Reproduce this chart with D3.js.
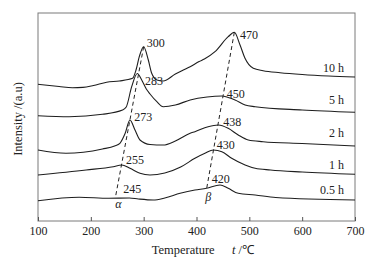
<!DOCTYPE html>
<html><head><meta charset="utf-8">
<script src="https://cdn.jsdelivr.net/npm/d3@7"></script>
<style>
html,body{margin:0;padding:0;background:#fff;}
svg{display:block;font-family:"Liberation Serif","Times New Roman",serif;}
</style></head>
<body><svg id="c" width="374" height="264"></svg>
<script>
// Temperature (°C) for each traced point, and intensity (a.u., arbitrary offset scale)
const t10 = [100,140,165,185,205,230,254,279,285.5,291.7,300,308.8,315.2,325,337,360,375,388,405,415,435,460,471.6,482.4,491.8,507.5,526,558,600,650,700];
const i10 = [136.7,134.5,133.3,133.6,135.5,138.8,140,142.7,151,164.3,174.3,161,147.7,141,140,147,151,154.3,159.5,162,169.3,184.3,188.7,176,162.7,152.7,150.3,148.3,146.5,145,144];
const t5 = [100,159,222,260,267,277.3,288,296.3,305,312,325,337,360,388,420,448,460,473,492,511,600,700];
const i5 = [105.3,104.3,106.7,111,114,134.3,147.5,141,132,127,119.3,114.3,116,121,124,125,123.5,121,116,114.3,111,108.7];
const t2 = [100,153,222,245,255,265,274,283.6,293,312,337,360,388,397,422,441,460,479,498,526,600,700];
const i2 = [71,67.7,72,75,77.7,87.7,101,91,81,76.5,76,80,87.7,89.3,94.3,96,92.7,86,81,79.3,77.5,75];
const t1 = [100,191,242.5,258.4,274,293,312,340,370,397,416,432,448,466.6,492,511,540,600,700];
const i1 = [46,51,54.3,56,52.7,47.7,46,48,54,62.7,67.7,71,69.3,62.7,56,52.7,51,49,46.7];
const t05 = [100,178,234,273,290,318,340,369,397,419,444.5,460,479,511,550,700];
const i05 = [20.3,23.7,22.7,23,22,21,23,27.7,31,32.7,36,32.7,27.7,26,23.5,21];

const seriesNames = ["10 h","5 h","2 h","1 h","0.5 h"];
const seriesT = [t10,t5,t2,t1,t05];
const seriesI = [i10,i5,i2,i1,i05];
const seriesLabelI = [153.7,121.7,88.3,56.7,31];
const seriesLabelT = 679;

// peak temperature labels and where they sit
const peakText = ["300","283","273","255","245","470","450","438","430","420"];
const peakLabelT = [305.8,302.5,282.3,266.6,261.5,482.4,457.2,450.7,438.2,428.8];
const peakLabelI = [178.3,140,104.3,61,32.7,186,127.7,99.3,76,42.7];

// dashed trend lines (alpha and beta peaks)
const trendNames = ["α","β"];
const trendT = [[300,247],[471.6,419.3]];
const trendI = [[174.3,25],[188.7,32.7]];
const trendLabelT = [252,422.4];
const trendLabelI = [17.7,24.3];

const xTicks = [100,200,300,400,500,600,700];

const svg = d3.select("#c");
const L=38,R=355,T=13,B=221;
const x = d3.scaleLinear().domain([100,700]).range([L,R]);
const y = d3.scaleLinear().domain([0,208]).range([B,T]);

// frame
svg.append("rect").attr("x",L).attr("y",T).attr("width",R-L).attr("height",B-T)
  .attr("fill","none").attr("stroke","#7a7a7a").attr("stroke-width",1);

// x axis
const ax = svg.append("g").attr("transform",`translate(0,${B})`)
  .call(d3.axisBottom(x).tickValues(xTicks).tickFormat(d3.format("d")).tickSizeInner(-4).tickSizeOuter(0).tickPadding(5.5));
ax.attr("font-family","Liberation Serif");
ax.select(".domain").remove();
ax.selectAll(".tick line").attr("stroke","#555");
ax.selectAll("text").attr("font-size","12px").attr("fill","#222");

// curves
const line = d3.line().x(d=>x(d[0])).y(d=>y(d[1])).curve(d3.curveMonotoneX);
seriesT.forEach((ts,k)=>{
  const pts = ts.map((t,j)=>[t,seriesI[k][j]]);
  svg.append("path").attr("d",line(pts)).attr("fill","none").attr("stroke","#1e1e1e").attr("stroke-width",1.1);
  svg.append("text").attr("x",x(seriesLabelT)).attr("y",y(seriesLabelI[k])).attr("dy","0.35em")
    .attr("text-anchor","end").attr("font-size","12px").attr("fill","#222").text(seriesNames[k]);
});

// dashed trend lines
trendT.forEach((tt,k)=>{
  svg.append("line").attr("x1",x(tt[0])).attr("y1",y(trendI[k][0])).attr("x2",x(tt[1])).attr("y2",y(trendI[k][1]))
    .attr("stroke","#222").attr("stroke-width",1).attr("stroke-dasharray","4,3");
  svg.append("text").attr("x",x(trendLabelT[k])).attr("y",y(trendLabelI[k])).attr("dy","0.35em")
    .attr("text-anchor","middle").attr("font-size","12px").attr("font-style","italic").attr("fill","#222").text(trendNames[k]);
});

// peak labels
peakText.forEach((s,k)=>{
  svg.append("text").attr("x",x(peakLabelT[k])).attr("y",y(peakLabelI[k])).attr("dy","0.35em")
    .attr("font-size","12px").attr("fill","#222").text(s);
});

// axis titles
const xt = svg.append("text").attr("y",254).attr("font-size","12.5px").attr("fill","#222");
xt.append("tspan").attr("x",151.7).text("Temperature");
xt.append("tspan").attr("x",232).attr("font-style","italic").text("t");
xt.append("tspan").text(" /℃");

svg.append("text").attr("transform","translate(22,119) rotate(-90)").attr("text-anchor","middle")
  .attr("font-size","12.5px").attr("fill","#222").text("Intensity /(a.u)");
</script></body></html>
